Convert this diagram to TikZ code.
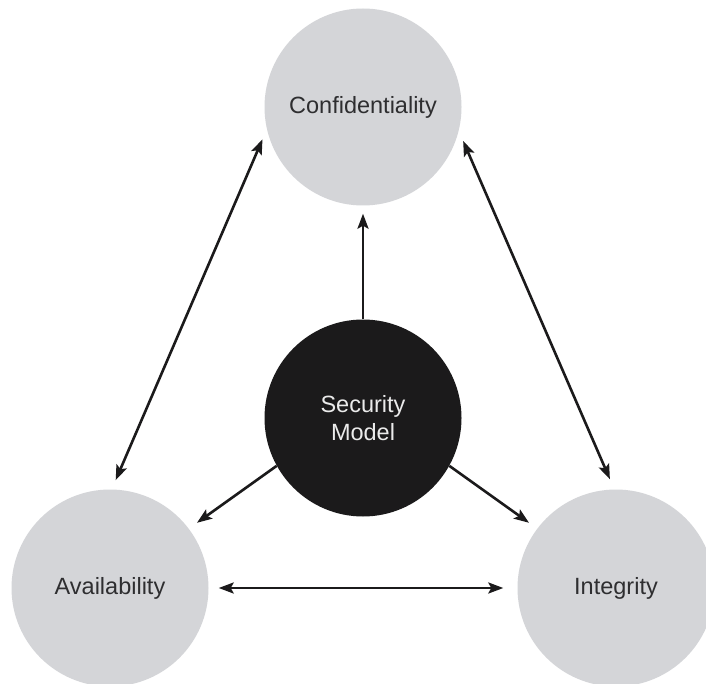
\documentclass[tikz,border=0pt]{standalone}
\usepackage{fontspec}
\setmainfont{Liberation Sans}
\usetikzlibrary{arrows.meta}
\definecolor{circgray}{HTML}{D4D5D8}
\definecolor{txtdark}{HTML}{2E2E30}
\definecolor{blk}{HTML}{1B1A1B}
\tikzset{
  pillar/.style={circle, fill=circgray, minimum size=197pt, inner sep=0pt, text=txtdark, font=\fontsize{23.5}{27}\selectfont},
  core/.style={circle, fill=blk, minimum size=197pt, inner sep=0pt, text=white!92!black, align=center, font=\fontsize{23.5}{28}\selectfont},
  tip/.tip={Stealth[length=15pt,width=11pt,inset=3pt]},
  link/.style={line width=2.6pt, draw=blk, -tip},
  biLink/.style={line width=2.6pt, draw=blk, tip-tip}
}
\begin{document}
\begin{tikzpicture}[x=1pt,y=-1pt]
\useasboundingbox (0,0) rectangle (706,684);
\clip (0,0) rectangle (706,684);
\fill[white] (0,0) rectangle (706,684);
\node[pillar] (conf) at (363,107) {Confidentiality};
\node[core] (sec) at (363,418) {Security\\Model};
\node[pillar] (avail) at (110,588) {Availability};
\node[pillar] (integ) at (616,588) {Integrity};
\draw[link, shorten >=8pt] (sec.90) -- (conf.270);
\draw[biLink, shorten <=11pt, shorten >=10pt] (conf.193) -- (avail.89);
\draw[biLink, shorten <=11pt, shorten >=11pt] (conf.346) -- (integ.91);
\draw[link, shorten >=10pt] (sec.209) -- (avail.37);
\draw[link, shorten >=10pt] (sec.331) -- (integ.143);
\draw[biLink, shorten <=10pt, shorten >=14pt] (avail.0) -- (integ.180);
\end{tikzpicture}
\end{document}
